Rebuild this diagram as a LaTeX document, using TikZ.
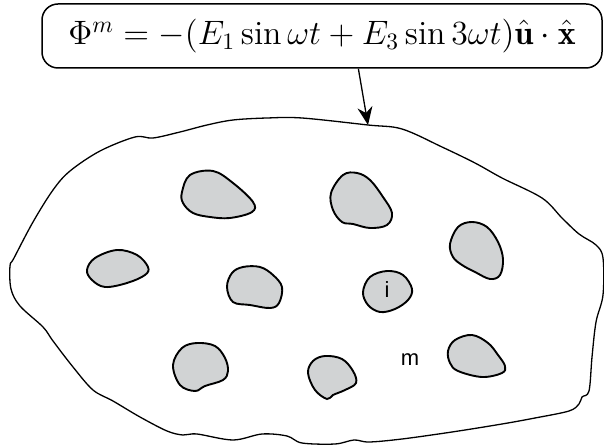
\documentclass[tikz,border=0pt]{standalone}
\usepackage{amsmath}
\usepackage{fontspec}
\newfontfamily\labelfont{Liberation Sans}
\usetikzlibrary{arrows.meta}
\definecolor{blobgray}{RGB}{209,211,212}
\tikzset{
    formulabox/.style={draw, line width=0.75pt, rounded corners=8pt,
                       minimum width=280pt, minimum height=32pt, inner sep=0pt},
    inclusion/.style={draw, line width=0.95pt, fill=blobgray},
    matrixline/.style={draw, line width=0.65pt},
    phaselabel/.style={font=\labelfont\fontsize{11}{13}\selectfont, inner sep=0pt},
}

\begin{document}
\begin{tikzpicture}[x=0.5pt, y=-0.5pt]
    \useasboundingbox (0,0) rectangle (604,448);

    % Applied potential
    \node[formulabox] (phi) at (322,36)
        {\scalebox{1.175}{\Large
         $\Phi^m = -(E_1\sin\omega t + E_3\sin 3\omega t)\hat{\mathbf{u}}\cdot\hat{\mathbf{x}}$}};
    \coordinate (hit) at (368,125);

    % Matrix boundary
    \draw[matrixline] plot[smooth cycle, tension=0.55] coordinates {
        (33,222) (53,190) (70,171) (100,151) (135,137) (153,138) (180,132)
        (207,125) (233,120) (267,118) (302,118) (368,125) (402,129) (442,147)
        (475,163) (502,178) (542,198) (562,218) (579,234) (596,245) (603,258)
        (603,295) (596,322) (592,357) (589,391) (582,397) (579,404) (569,411)
        (535,418) (502,424) (452,432) (402,439) (369,442) (354,440) (335,444)
        (302,443) (287,436) (262,434) (233,440) (197,434) (183,435) (167,431)
        (140,417) (113,401) (93,390) (73,367) (53,341) (43,327) (20,306)
        (11,289) (10,266) (14,258)};

    % Inclusions
    \draw[inclusion] plot[smooth cycle, tension=0.6] coordinates {
        (182,192) (190,175) (213,171) (233,183) (253,202) (252,212)
        (230,218) (210,217) (193,213) (183,203)};
    \draw[inclusion] plot[smooth cycle, tension=0.6] coordinates {
        (331,193) (343,175) (357,173) (370,180) (383,197) (392,213)
        (387,225) (370,228) (353,224) (342,222) (333,210)};
    \draw[inclusion] plot[smooth cycle, tension=0.6] coordinates {
        (450,244) (458,227) (472,222) (487,227) (498,242) (503,259)
        (500,275) (490,279) (475,272) (462,265) (453,257)};
    \draw[inclusion] plot[smooth cycle, tension=0.6] coordinates {
        (87,270) (95,258) (117,250) (137,255) (148,267) (145,275)
        (127,283) (105,287) (92,280)};
    \draw[inclusion] plot[smooth cycle, tension=0.6] coordinates {
        (227,287) (232,273) (243,267) (260,267) (273,275) (282,287)
        (279,303) (270,308) (250,305) (233,302)};
    \draw[inclusion] plot[smooth cycle, tension=0.6] coordinates {
        (363,292) (370,277) (387,271) (403,275) (412,289) (408,300)
        (395,309) (380,312) (368,305)};
    \draw[inclusion] plot[smooth cycle, tension=0.6] coordinates {
        (173,365) (182,348) (197,343) (215,346) (225,358) (228,371)
        (223,380) (205,386) (195,391) (180,385)};
    \draw[inclusion] plot[smooth cycle, tension=0.6] coordinates {
        (308,373) (313,361) (325,356) (342,359) (353,371) (356,383)
        (345,390) (333,395) (327,399) (315,390)};
    \draw[inclusion] plot[smooth cycle, tension=0.6] coordinates {
        (448,351) (455,340) (472,335) (488,343) (498,355) (505,366)
        (502,373) (482,377) (458,371) (450,363)};

    % Phase labels
    \node[phaselabel] (labi) at (387,290) {i};
    \node[phaselabel] (labm) at (410,360) {m};

    % Arrow to the boundary
    \draw[-{Stealth[length=9pt, width=7.5pt]}, line width=0.65pt] (phi.-42) -- (hit);
\end{tikzpicture}
\end{document}
